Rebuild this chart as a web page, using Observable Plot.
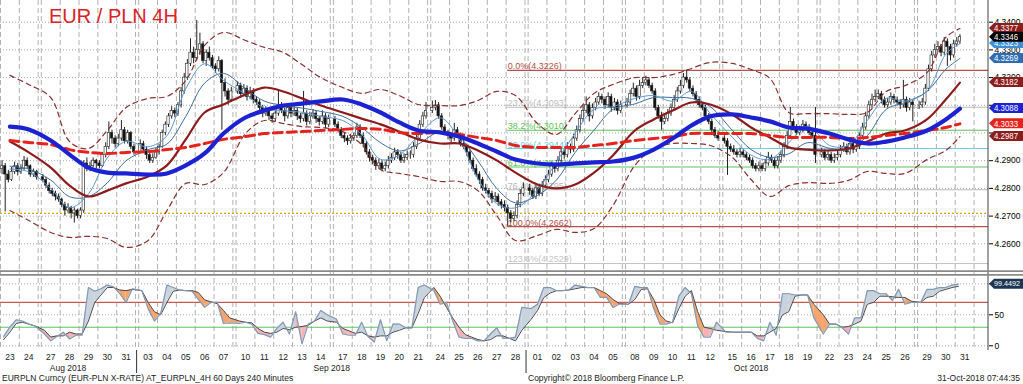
<!DOCTYPE html>
<html><head><meta charset="utf-8">
<script src="https://cdn.jsdelivr.net/npm/d3@7"></script>
<script src="https://cdn.jsdelivr.net/npm/@observablehq/plot@0.6"></script>
<style>
body{margin:0;background:#fff;}
#wrap{position:relative;width:1023px;height:384px;overflow:hidden;font-family:"Liberation Sans",Arial,sans-serif;background:#fff;}
#wrap svg{display:block;}
.foot{position:absolute;top:373px;font-size:8.5px;line-height:11px;color:#222;white-space:nowrap;}
</style></head><body><div id="wrap"></div>
<script>
// ---------------- DATA ----------------
const title = "EUR / PLN 4H";
const days = ["2018-08-23","2018-08-24","2018-08-27","2018-08-28","2018-08-29","2018-08-30","2018-08-31",
"2018-09-03","2018-09-04","2018-09-05","2018-09-06","2018-09-07","2018-09-10","2018-09-11","2018-09-12","2018-09-13","2018-09-14",
"2018-09-17","2018-09-18","2018-09-19","2018-09-20","2018-09-21","2018-09-24","2018-09-25","2018-09-26","2018-09-27","2018-09-28",
"2018-10-01","2018-10-02","2018-10-03","2018-10-04","2018-10-05","2018-10-08","2018-10-09","2018-10-10","2018-10-11","2018-10-12",
"2018-10-15","2018-10-16","2018-10-17","2018-10-18","2018-10-19","2018-10-22","2018-10-23","2018-10-24","2018-10-25","2018-10-26",
"2018-10-29","2018-10-30","2018-10-31"];

// 4H bars, six per day (last day partial)
const open = [
4.2870,4.2880,4.2850,4.2830,4.2860,4.2880, 4.2860,4.2870,4.2900,4.2880,4.2850,4.2860,
4.2840,4.2830,4.2810,4.2790,4.2780,4.2770, 4.2760,4.2740,4.2720,4.2730,4.2710,4.2720,
4.2700,4.2720,4.2890,4.2870,4.2880,4.2900, 4.2890,4.2880,4.2920,4.2950,4.3000,4.2980,
4.2960,4.2980,4.3010,4.2970,4.3000,4.2950, 4.2930,4.2960,4.2940,4.2920,4.2900,4.2910,
4.2930,4.2950,4.3000,4.3030,4.3060,4.3080, 4.3070,4.3100,4.3150,4.3200,4.3250,4.3290,
4.3270,4.3300,4.3320,4.3260,4.3290,4.3270, 4.3240,4.3230,4.3260,4.3180,4.3150,4.3120,
4.3150,4.3170,4.3140,4.3160,4.3130,4.3150, 4.3120,4.3110,4.3090,4.3070,4.3080,4.3060,
4.3050,4.3070,4.3100,4.3080,4.3060,4.3090, 4.3070,4.3080,4.3060,4.3050,4.3070,4.3040,
4.3060,4.3070,4.3050,4.3040,4.3060,4.3030, 4.3050,4.3030,4.3010,4.2990,4.2980,4.2970,
4.2980,4.2990,4.3020,4.2990,4.2960,4.2930, 4.2910,4.2900,4.2880,4.2890,4.2870,4.2880,
4.2900,4.2910,4.2930,4.2920,4.2900,4.2910, 4.2920,4.2920,4.2950,4.2980,4.3030,4.3060,
4.3080,4.3090,4.3100,4.3060,4.3020,4.3000, 4.2990,4.2980,4.3010,4.2990,4.2960,4.2950,
4.2930,4.2900,4.2870,4.2850,4.2830,4.2800, 4.2790,4.2780,4.2760,4.2770,4.2750,4.2740,
4.2730,4.2710,4.2690,4.2700,4.2740,4.2780, 4.2800,4.2790,4.2770,4.2800,4.2780,4.2810,
4.2830,4.2850,4.2880,4.2870,4.2900,4.2930, 4.2920,4.2950,4.2940,4.2980,4.3010,4.3050,
4.3080,4.3100,4.3060,4.3090,4.3110,4.3130, 4.3120,4.3100,4.3130,4.3090,4.3110,4.3080,
4.3100,4.3110,4.3140,4.3160,4.3130,4.3170, 4.3180,4.3190,4.3170,4.3150,4.3090,4.3060,
4.3040,4.3050,4.3070,4.3090,4.3120,4.3150, 4.3170,4.3200,4.3190,4.3160,4.3140,4.3120,
4.3100,4.3090,4.3060,4.3040,4.3010,4.2990, 4.2980,4.2970,4.2950,4.2940,4.2930,4.2920,
4.2930,4.2920,4.2910,4.2900,4.2880,4.2870, 4.2880,4.2870,4.2890,4.2910,4.2900,4.2880,
4.2900,4.2920,4.2950,4.2990,4.3040,4.3020, 4.3000,4.3010,4.3030,4.3020,4.3000,4.2990,
4.2920,4.2930,4.2910,4.2920,4.2900,4.2910, 4.2920,4.2940,4.2950,4.2930,4.2960,4.2940,
4.2950,4.2990,4.3020,4.3060,4.3100,4.3120, 4.3130,4.3140,4.3120,4.3100,4.3110,4.3130,
4.3120,4.3110,4.3100,4.3120,4.3090,4.3110, 4.3100,4.3100,4.3110,4.3160,4.3230,4.3280,
4.3300,4.3310,4.3290,4.3330,4.3310,4.3280, 4.3320,4.3330];
const high = [
4.2900,4.2890,4.2865,4.2875,4.2895,4.2890, 4.2885,4.2915,4.2910,4.2885,4.2870,4.2865,
4.2850,4.2840,4.2820,4.2800,4.2790,4.2780, 4.2765,4.2750,4.2745,4.2735,4.2730,4.2725,
4.2730,4.2900,4.2910,4.2895,4.2910,4.2905, 4.2900,4.2930,4.2965,4.3040,4.3010,4.2990,
4.2995,4.3045,4.3020,4.3010,4.3005,4.2960, 4.2975,4.2970,4.2950,4.2930,4.2925,4.2945,
4.2960,4.3010,4.3040,4.3070,4.3095,4.3090, 4.3110,4.3165,4.3215,4.3265,4.3340,4.3310,
4.3406,4.3360,4.3330,4.3300,4.3310,4.3280, 4.3250,4.3275,4.3265,4.3195,4.3160,4.3165,
4.3185,4.3180,4.3175,4.3170,4.3165,4.3160, 4.3130,4.3120,4.3100,4.3095,4.3090,4.3070,
4.3080,4.3150,4.3110,4.3090,4.3105,4.3100, 4.3095,4.3090,4.3070,4.3150,4.3080,4.3075,
4.3085,4.3080,4.3060,4.3080,4.3070,4.3065, 4.3060,4.3040,4.3020,4.3000,4.2990,4.2995,
4.3000,4.3035,4.3030,4.3000,4.2970,4.2940, 4.2920,4.2910,4.2905,4.2900,4.2895,4.2915,
4.2925,4.2945,4.2940,4.2930,4.2925,4.2935, 4.2935,4.2965,4.2995,4.3045,4.3075,4.3110,
4.3115,4.3117,4.3110,4.3070,4.3030,4.3010, 4.3000,4.3035,4.3020,4.3000,4.2975,4.2960,
4.2940,4.2910,4.2885,4.2860,4.2840,4.2815, 4.2800,4.2790,4.2785,4.2780,4.2760,4.2755,
4.2740,4.2720,4.2715,4.2755,4.2795,4.2820, 4.2815,4.2800,4.2815,4.2810,4.2825,4.2845,
4.2865,4.2895,4.2890,4.2915,4.2945,4.2940, 4.2965,4.2960,4.2995,4.3025,4.3065,4.3100,
4.3130,4.3110,4.3105,4.3125,4.3145,4.3140, 4.3130,4.3145,4.3140,4.3125,4.3120,4.3115,
4.3125,4.3155,4.3180,4.3170,4.3190,4.3200, 4.3205,4.3200,4.3180,4.3160,4.3100,4.3075,
4.3065,4.3085,4.3105,4.3135,4.3165,4.3190, 4.3215,4.3226,4.3200,4.3170,4.3150,4.3130,
4.3110,4.3100,4.3070,4.3050,4.3020,4.3005, 4.2990,4.2980,4.2960,4.2955,4.2940,4.2945,
4.2940,4.2930,4.2920,4.2910,4.2890,4.2895, 4.2890,4.2905,4.2930,4.2920,4.2910,4.2915,
4.2935,4.2965,4.3005,4.3092,4.3050,4.3030, 4.3025,4.3045,4.3040,4.3030,4.3010,4.3092,
4.2945,4.2940,4.2935,4.2930,4.2925,4.2935, 4.2955,4.2965,4.2960,4.2975,4.2970,4.2965,
4.3000,4.3035,4.3075,4.3115,4.3140,4.3155, 4.3155,4.3150,4.3130,4.3125,4.3145,4.3140,
4.3130,4.3120,4.3190,4.3130,4.3125,4.3120, 4.3115,4.3125,4.3175,4.3245,4.3295,4.3320,
4.3330,4.3320,4.3345,4.3340,4.3320,4.3335, 4.3345,4.3355];
const low = [
4.2850,4.2715,4.2820,4.2825,4.2850,4.2845, 4.2850,4.2865,4.2870,4.2840,4.2840,4.2830,
4.2820,4.2800,4.2780,4.2770,4.2755,4.2750, 4.2730,4.2700,4.2710,4.2690,4.2675,4.2690,
4.2690,4.2710,4.2860,4.2860,4.2875,4.2870, 4.2870,4.2875,4.2910,4.2940,4.2960,4.2945,
4.2950,4.2970,4.2960,4.2960,4.2940,4.2920, 4.2925,4.2930,4.2905,4.2890,4.2890,4.2905,
4.2920,4.2945,4.2990,4.3020,4.3050,4.3055, 4.3060,4.3090,4.3140,4.3190,4.3240,4.3250,
4.3260,4.3280,4.3250,4.3240,4.3260,4.3230, 4.3215,4.3220,4.3010,4.3130,4.3100,4.3110,
4.3140,4.3125,4.3130,4.3115,4.3120,4.3105, 4.3100,4.3080,4.3055,4.3060,4.3045,4.3035,
4.3040,4.3060,4.3070,4.3040,4.3050,4.3055, 4.3060,4.3045,4.3035,4.3040,4.3025,4.3030,
4.3050,4.3035,4.3025,4.3030,4.3015,4.3020, 4.3020,4.3000,4.2980,4.2965,4.2955,4.2960,
4.2970,4.2980,4.2980,4.2950,4.2920,4.2895, 4.2885,4.2865,4.2870,4.2860,4.2860,4.2870,
4.2890,4.2900,4.2905,4.2890,4.2890,4.2900, 4.2905,4.2910,4.2940,4.2970,4.3020,4.3050,
4.3070,4.3080,4.3050,4.3010,4.2990,4.2975, 4.2965,4.2970,4.2980,4.2950,4.2940,4.2915,
4.2890,4.2860,4.2840,4.2815,4.2790,4.2780, 4.2765,4.2745,4.2750,4.2735,4.2725,4.2715,
4.2662,4.2675,4.2680,4.2690,4.2730,4.2770, 4.2775,4.2760,4.2760,4.2770,4.2770,4.2800,
4.2820,4.2840,4.2855,4.2860,4.2890,4.2905, 4.2910,4.2925,4.2930,4.2970,4.3000,4.3040,
4.3070,4.3040,4.3050,4.3080,4.3100,4.3105, 4.3085,4.3090,4.3075,4.3080,4.3065,4.3070,
4.3090,4.3100,4.3130,4.3115,4.3120,4.3160, 4.3170,4.3160,4.3140,4.3080,4.3050,4.3010,
4.3030,4.3040,4.3060,4.3080,4.3110,4.3140, 4.3160,4.3180,4.3150,4.3130,4.3110,4.3090,
4.3080,4.3050,4.3030,4.3000,4.2980,4.2970, 4.2960,4.2847,4.2930,4.2920,4.2910,4.2910,
4.2910,4.2900,4.2890,4.2870,4.2860,4.2860, 4.2860,4.2860,4.2880,4.2890,4.2870,4.2870,
4.2890,4.2910,4.2940,4.2980,4.3010,4.2990, 4.2990,4.3000,4.3010,4.2990,4.2980,4.2890,
4.2910,4.2900,4.2900,4.2890,4.2890,4.2900, 4.2910,4.2930,4.2920,4.2920,4.2925,4.2930,
4.2940,4.2980,4.3010,4.3050,4.3090,4.3110, 4.3120,4.3105,4.3090,4.3090,4.3100,4.3105,
4.3100,4.3085,4.3090,4.3075,4.3080,4.3040, 4.3085,4.3090,4.3100,4.3150,4.3220,4.3270,
4.3290,4.3275,4.3280,4.3240,4.3260,4.3270, 4.3310,4.3320];
const close = [
4.2880,4.2850,4.2830,4.2860,4.2880,4.2860, 4.2870,4.2900,4.2880,4.2850,4.2860,4.2840,
4.2830,4.2810,4.2790,4.2780,4.2770,4.2760, 4.2740,4.2720,4.2730,4.2710,4.2720,4.2700,
4.2720,4.2890,4.2870,4.2880,4.2900,4.2890, 4.2880,4.2920,4.2950,4.3000,4.2980,4.2960,
4.2980,4.3010,4.2970,4.3000,4.2950,4.2930, 4.2960,4.2940,4.2920,4.2900,4.2910,4.2930,
4.2950,4.3000,4.3030,4.3060,4.3080,4.3070, 4.3100,4.3150,4.3200,4.3250,4.3290,4.3270,
4.3300,4.3320,4.3260,4.3290,4.3270,4.3240, 4.3230,4.3260,4.3180,4.3150,4.3120,4.3150,
4.3170,4.3140,4.3160,4.3130,4.3150,4.3120, 4.3110,4.3090,4.3070,4.3080,4.3060,4.3050,
4.3070,4.3100,4.3080,4.3060,4.3090,4.3070, 4.3080,4.3060,4.3050,4.3070,4.3040,4.3060,
4.3070,4.3050,4.3040,4.3060,4.3030,4.3050, 4.3030,4.3010,4.2990,4.2980,4.2970,4.2980,
4.2990,4.3020,4.2990,4.2960,4.2930,4.2910, 4.2900,4.2880,4.2890,4.2870,4.2880,4.2900,
4.2910,4.2930,4.2920,4.2900,4.2910,4.2920, 4.2920,4.2950,4.2980,4.3030,4.3060,4.3080,
4.3090,4.3100,4.3060,4.3020,4.3000,4.2990, 4.2980,4.3010,4.2990,4.2960,4.2950,4.2930,
4.2900,4.2870,4.2850,4.2830,4.2800,4.2790, 4.2780,4.2760,4.2770,4.2750,4.2740,4.2730,
4.2710,4.2690,4.2700,4.2740,4.2780,4.2800, 4.2790,4.2770,4.2800,4.2780,4.2810,4.2830,
4.2850,4.2880,4.2870,4.2900,4.2930,4.2920, 4.2950,4.2940,4.2980,4.3010,4.3050,4.3080,
4.3100,4.3060,4.3090,4.3110,4.3130,4.3120, 4.3100,4.3130,4.3090,4.3110,4.3080,4.3100,
4.3110,4.3140,4.3160,4.3130,4.3170,4.3180, 4.3190,4.3170,4.3150,4.3090,4.3060,4.3040,
4.3050,4.3070,4.3090,4.3120,4.3150,4.3170, 4.3200,4.3190,4.3160,4.3140,4.3120,4.3100,
4.3090,4.3060,4.3040,4.3010,4.2990,4.2980, 4.2970,4.2950,4.2940,4.2930,4.2920,4.2930,
4.2920,4.2910,4.2900,4.2880,4.2870,4.2880, 4.2870,4.2890,4.2910,4.2900,4.2880,4.2900,
4.2920,4.2950,4.2990,4.3040,4.3020,4.3000, 4.3010,4.3030,4.3020,4.3000,4.2990,4.2920,
4.2930,4.2910,4.2920,4.2900,4.2910,4.2920, 4.2940,4.2950,4.2930,4.2960,4.2940,4.2950,
4.2990,4.3020,4.3060,4.3100,4.3120,4.3130, 4.3140,4.3120,4.3100,4.3110,4.3130,4.3120,
4.3110,4.3100,4.3120,4.3090,4.3110,4.3100, 4.3100,4.3110,4.3160,4.3230,4.3280,4.3300,
4.3310,4.3290,4.3330,4.3310,4.3280,4.3320, 4.3330,4.3346];

// indicator lines, one reading per trading day
const maBlue = [4.3023,4.3013,4.2973,4.2922,4.2875,4.2857,4.2854,4.2850,4.2854,4.2883,4.2926,4.2998,4.3056,4.3081,4.3099,4.3106,4.3114,4.3121,4.3103,4.3074,4.3038,4.3009,4.3002,4.2987,4.2962,4.2933,4.2904,4.2890,4.2886,4.2890,4.2894,4.2897,4.2912,4.2940,4.2980,4.3027,4.3060,4.3067,4.3056,4.3042,4.3020,4.3016,4.2998,4.2977,4.2962,4.2969,4.2984,4.3009,4.3049,4.3088];
const maRed = [4.2973,4.2966,4.2958,4.2940,4.2930,4.2926,4.2930,4.2933,4.2940,4.2948,4.2962,4.2977,4.2987,4.2998,4.3002,4.3005,4.3009,4.3013,4.3016,4.3013,4.3002,4.2998,4.3002,4.2995,4.2984,4.2973,4.2955,4.2948,4.2948,4.2948,4.2955,4.2962,4.2973,4.2980,4.2987,4.2998,4.2998,4.2998,4.2998,4.2991,4.2984,4.2984,4.2984,4.2980,4.2984,4.2991,4.2998,4.3009,4.3020,4.3033];
const maMaroon = [4.2969,4.2930,4.2875,4.2810,4.2771,4.2792,4.2818,4.2843,4.2883,4.2977,4.3074,4.3103,4.3139,4.3164,4.3150,4.3125,4.3099,4.3074,4.3052,4.3031,4.3005,4.2977,4.2962,4.2962,4.2937,4.2901,4.2857,4.2814,4.2800,4.2814,4.2857,4.2919,4.3009,4.3049,4.3081,4.3110,4.3103,4.3067,4.3020,4.2984,4.2948,4.2940,4.2937,4.2944,4.2969,4.2998,4.3009,4.3049,4.3121,4.3182];
const bbUpper = [4.3208,4.3175,4.3128,4.2969,4.2944,4.3009,4.3092,4.3125,4.3132,4.3190,4.3316,4.3363,4.3334,4.3309,4.3291,4.3247,4.3200,4.3164,4.3143,4.3157,4.3135,4.3103,4.3099,4.3099,4.3117,4.3150,4.3135,4.3034,4.2995,4.3070,4.3143,4.3175,4.3200,4.3200,4.3211,4.3233,4.3255,4.3251,4.3229,4.3197,4.3074,4.3070,4.3070,4.3067,4.3074,4.3150,4.3171,4.3218,4.3345,4.3377];
const bbLower = [4.2720,4.2684,4.2641,4.2623,4.2627,4.2619,4.2587,4.2612,4.2720,4.2818,4.2814,4.2857,4.2998,4.3045,4.3034,4.3023,4.3020,4.3005,4.2958,4.2868,4.2854,4.2843,4.2825,4.2825,4.2792,4.2702,4.2612,4.2630,4.2652,4.2641,4.2655,4.2738,4.2883,4.2944,4.2962,4.2962,4.2955,4.2912,4.2832,4.2771,4.2810,4.2821,4.2818,4.2829,4.2861,4.2854,4.2854,4.2904,4.2937,4.2987];
const maFast = [4.2870,4.2860,4.2800,4.2730,4.2780,4.2910,4.2970,4.2950,4.2990,4.3160,4.3250,4.3190,4.3140,4.3090,4.3080,4.3075,4.3060,4.3045,4.2995,4.2905,4.2920,4.2990,4.3055,4.2980,4.2835,4.2745,4.2730,4.2795,4.2895,4.3000,4.3085,4.3095,4.3125,4.3135,4.3115,4.3150,4.3070,4.2985,4.2920,4.2905,4.2965,4.3025,4.2955,4.2955,4.3045,4.3125,4.3115,4.3150,4.3285,4.3323];
const maSlow = [4.2880,4.2870,4.2830,4.2770,4.2770,4.2820,4.2900,4.2940,4.2960,4.3060,4.3180,4.3215,4.3160,4.3115,4.3100,4.3090,4.3078,4.3060,4.3020,4.2965,4.2935,4.2960,4.3005,4.2985,4.2900,4.2800,4.2748,4.2775,4.2830,4.2930,4.3010,4.3085,4.3105,4.3128,4.3128,4.3125,4.3095,4.3010,4.2940,4.2912,4.2925,4.2965,4.2945,4.2940,4.2990,4.3085,4.3110,4.3150,4.3230,4.3269];

// stochastic, three readings per trading day
const stochK = [15,30,42, 40,35,32, 19,8,15, 22,11,17, 17,94,88, 92,98,95, 84,70,92, 89,60,40, 52,98,94, 90,89,88,
75,62,70, 70,36,37, 36,38,35, 20,18,14, 28,38,19, 55,3,35, 40,57,50, 43,19,17, 17,38,15, 6,42,8, 35,35,29, 29,94,98,
89,67,70, 40,14,12, 12,8,8, 19,29,12, 12,14,62, 60,67,94, 94,89,89, 90,98,96, 94,94,78, 78,62,67, 67,96,94, 94,60,35,
35,38,80, 94,84,32, 14,14,38, 22,22,22, 22,22,12, 8,38,17, 84,84,82, 82,82,45, 19,35,35, 29,19,45, 45,89,89, 84,84,73,
91,67,70, 70,91,91, 94,94,98, 99.4492];
const stochD = [10,22,36, 38,35,32, 25,14,16, 16,22,19, 19,40,70, 82,94,94, 90,89,91, 89,70,55, 50,70,88, 90,89,89,
86,74,71, 68,57,45, 40,38,37, 28,22,20, 22,28,26, 30,31,33, 40,45,40, 38,28,24, 20,22,16, 14,16,16, 22,25,29, 29,52,78,
94,80,62, 45,30,18, 14,10,8, 10,16,16, 12,8,25, 43,57,78, 85,89,89, 90,92,94, 94,94,89, 84,75,68, 67,75,91, 92,75,50,
40,37,60, 80,89,55, 30,28,25, 23,22,22, 22,22,16, 16,22,28, 50,55,80, 82,82,67, 50,35,35, 30,31,35, 40,67,70, 80,80,79,
78,78,72, 70,78,80, 88,91,94, 96];

const priceTicks = [4.26,4.27,4.28,4.29,4.30,4.31,4.32,4.33,4.34];
const stochTicks = [0,50,100];
const stochOverbought = [70];
const stochOversold = [30];
const fibLevels = [0,23.6,38.2,50,61.8,76.4,100,123.6];
const fibPrices = [4.3226,4.3093,4.3010,4.2944,4.2877,4.2795,4.2662,4.2529];
const supportLevel = [4.2710];
const footLeft = "EURPLN Curncy (EUR-PLN X-RATE) AT_EURPLN_4H 60 Days 240 Minutes";
const footMid = "Copyright\u00a9 2018 Bloomberg Finance L.P.";
const footRight = "31-Oct-2018 07:44:35";

// ---------------- STYLE ----------------
const fibColors = ["#b5504a","#bdbdbd","#5cc35c","#6ccfdc","#5cc35c","#b8b8b8","#b5504a","#c4c4c4"];
const W = 1023, MR = 35, FONT = "Liberation Sans, Arial, sans-serif";

// ---------------- DERIVED ----------------
const BARS = 6;
const dates = days.map(d3.utcParse("%Y-%m-%d"));
const dayStart = [];
{ let s = 0; dates.forEach((d, i) => { if (i) { const gap = Math.round((d - dates[i-1]) / 864e5); s += BARS + (gap > 1 ? 1 : 0); } dayStart.push(s); }); }
const nb = close.length;
const barsInDay = i => Math.min(BARS, nb - i * BARS);
const bars = d3.range(nb).map(k => ({slot: dayStart[Math.floor(k / BARS)] + (k % BARS) + 0.5, open: open[k], high: high[k], low: low[k], close: close[k]}));
const ma = days.map((d, i) => ({slot: dayStart[i] + Math.min(3, barsInDay(i) - 0.5),
  blue: maBlue[i], red: maRed[i], maroon: maMaroon[i], up: bbUpper[i], lo: bbLower[i], fast: maFast[i], slow: maSlow[i]}));
const stoch = stochK.map((k, j) => ({slot: dayStart[Math.floor(j / 3)] + (j % 3) * 2 + 1, k, d: stochD[j]}));
const segs = [];
for (let j = 0; j < stoch.length - 1; j++) {
  const a = stoch[j], b = stoch[j+1];
  const diff = (a.k - a.d) + (b.k - b.d);
  const color = diff >= 0 ? "#c9d3de" : ((a.d + b.d) / 2 > 40 ? "#f4a46d" : "#f2b2b6");
  segs.push({seg: j, slot: a.slot, k: a.k, d: a.d, color}, {seg: j, slot: b.slot, k: b.k, d: b.d, color});
}
const lastSlot = dayStart[days.length - 1] + BARS;
const vlines = [];
dayStart.forEach((s, i) => { vlines.push(s); const next = i < dayStart.length - 1 ? dayStart[i+1] : lastSlot; if (next > s + BARS || i === dayStart.length - 1) vlines.push(s + BARS); });
const lowIdx = d3.minIndex(low);
const fibX = bars[lowIdx].slot;
const xEnd = 314.6;
const fib = fibLevels.map((l, i) => ({price: fibPrices[i], color: fibColors[i], label: `${l.toFixed(1)}%(${fibPrices[i].toFixed(4)})`}));
const dayRows = days.map((d, i) => ({center: dayStart[i] + BARS / 2, label: d3.utcFormat("%d")(dates[i])}));
const months = d3.groups(days.map((d, i) => i), i => d3.utcFormat("%b %Y")(dates[i]));
const monthRows = months.map(([label, idx]) => ({label, center: (dayStart[idx[0]] + dayStart[idx[idx.length-1]] + BARS) / 2}));
const monthSeps = months.slice(1).map(([, idx]) => dayStart[idx[0]] - 0.5);

const lastClose = close[close.length - 1];
const mainBoxes = [[maFast.at(-1), "#3d8fd6"], [bbUpper.at(-1), "#8c1d1d"], [lastClose, "#000"], [maSlow.at(-1), "#2f6db3"],
 [maMaroon.at(-1), "#8c1d1d"], [maBlue.at(-1), "#1c22d2"], [maRed.at(-1), "#e5231c"], [bbLower.at(-1), "#8c1d1d"]];
const lowerBoxes = [[stochK.at(-1), "#1c3553"]];

const xOpt = {domain: [0, xEnd], range: [0, W - MR], axis: null};
const curve = "catmull-rom";

// ---------------- MAIN PANEL ----------------
const main = Plot.plot({
  width: W, height: 270, marginTop: 0, marginBottom: 0, marginLeft: 0, marginRight: MR,
  x: xOpt,
  y: {domain: [4.25036, 4.34783], axis: null},
  color: {type: "identity"},
  style: {fontFamily: FONT, background: "#fff"},
  marks: [
    Plot.ruleY(priceTicks, {stroke: "#a9a9a9", strokeDasharray: "1,2"}),
    Plot.ruleX(vlines, {stroke: "#b2b2b2", strokeDasharray: "5,3"}),
    Plot.ruleY(supportLevel, {x1: 0, x2: xEnd, stroke: "#e0a800", strokeDasharray: "2,2", strokeWidth: 1.3}),
    Plot.ruleY(fib, {y: "price", x1: fibX, x2: xEnd, stroke: "color", strokeWidth: 1.1}),
    Plot.text(fib, {x: fibX, y: "price", text: "label", fill: "color", textAnchor: "start", lineAnchor: "bottom", dy: -1, fontSize: 9}),
    Plot.ruleX(bars, {x: "slot", y1: "low", y2: "high", stroke: "#222", strokeWidth: 1}),
    Plot.rect(bars, {x1: d => d.slot - 0.37, x2: d => d.slot + 0.37, y1: "open", y2: "close",
      fill: d => d.close >= d.open ? "#ffffff" : "#111111", stroke: "#222", strokeWidth: 0.6}),
    Plot.line(ma, {x: "slot", y: "slow", stroke: "#3e6e9e", strokeWidth: 1, curve}),
    Plot.line(ma, {x: "slot", y: "fast", stroke: "#5b9ad6", strokeWidth: 1, curve}),
    Plot.line(ma, {x: "slot", y: "up", stroke: "#8b2f2f", strokeWidth: 1.2, strokeDasharray: "5,4", curve}),
    Plot.line(ma, {x: "slot", y: "lo", stroke: "#8b2f2f", strokeWidth: 1.2, strokeDasharray: "5,4", curve}),
    Plot.line(ma, {x: "slot", y: "maroon", stroke: "#8e1b1b", strokeWidth: 2.2, curve}),
    Plot.line(ma, {x: "slot", y: "red", stroke: "#e5231c", strokeWidth: 3, strokeDasharray: "9,5", curve}),
    Plot.line(ma, {x: "slot", y: "blue", stroke: "#1c22d2", strokeWidth: 4.2, curve}),
    // tick labels sitting right under a value box are left blank (hidden there in the original too)
    Plot.axisY(priceTicks, {anchor: "right", tickSize: 4, tickPadding: 2, fontSize: 8.5, label: null,
      tickFormat: t => mainBoxes.some(([v]) => Math.abs(v - t) < 0.0014) ? "" : d3.format(".4f")(t)}),
  ]
});

// ---------------- STOCHASTIC PANEL ----------------
const lower = Plot.plot({
  width: W, height: 103, marginTop: 0, marginBottom: 23, marginLeft: 0, marginRight: MR,
  x: xOpt,
  y: {domain: [-7.6, 121.5], axis: null},
  color: {type: "identity"},
  style: {fontFamily: FONT, background: "#fff"},
  marks: [
    Plot.ruleY(stochTicks, {stroke: "#a9a9a9", strokeDasharray: "1,2"}),
    Plot.ruleX(vlines, {stroke: "#b2b2b2", strokeDasharray: "5,3"}),
    Plot.ruleY(stochOverbought, {stroke: "#c65a52", strokeWidth: 1.1}),
    Plot.ruleY(stochOversold, {stroke: "#5ec45e", strokeWidth: 1.1}),
    Plot.areaY(segs, {x: "slot", y1: "d", y2: "k", z: "seg", fill: "color"}),
    Plot.line(stoch, {x: "slot", y: "d", stroke: "#4a4a4a", strokeWidth: 1}),
    Plot.line(stoch, {x: "slot", y: "k", stroke: "#8299b4", strokeWidth: 1.2}),
    Plot.axisY(stochTicks, {anchor: "right", tickSize: 4, tickPadding: 2, fontSize: 8.5, label: null,
      tickFormat: t => lowerBoxes.some(([v]) => Math.abs(v - t) < 8) ? "" : String(t)}),
    Plot.text(dayRows, {x: "center", text: "label", frameAnchor: "bottom", lineAnchor: "middle", dy: 7, fontSize: 8.5, fill: "#222"}),
    Plot.text(monthRows, {x: "center", text: "label", frameAnchor: "bottom", lineAnchor: "middle", dy: 18, fontSize: 8.5, fill: "#222"}),
  ]
});

// ---------------- annotations using the plots' scales ----------------
function labelBox(svg, v, color, text) {
  const y = svg.scale("y").apply(v), x0 = W - MR + 1;
  const long = text.length > 6;
  const g = d3.select(svg).append("g");
  g.append("path").attr("d", `M${x0},${y} L${x0+5},${y-5} H${W} V${y+5} H${x0+5} Z`).attr("fill", color);
  g.append("text").attr("x", x0 + 5).attr("y", y).attr("dy", "0.35em").attr("fill", "#fff").attr("text-anchor", "start")
    .attr("font-size", long ? 7.8 : 9).attr("font-family", FONT)
    .attr("textLength", long ? 26 : 24).attr("lengthAdjust", "spacingAndGlyphs").text(text);
}
const xr = main.scale("x").apply(xEnd);
d3.select(main).append("line").attr("x1", xr).attr("x2", xr).attr("y1", 0).attr("y2", 270).attr("stroke", "#444");
d3.select(main).append("text").attr("x", 49).attr("y", 23).attr("font-size", 20).attr("font-family", FONT)
  .attr("text-anchor", "start").attr("fill", "#dc2228").text(title);
mainBoxes.forEach(([v, c]) => labelBox(main, v, c, v.toFixed(4)));

const lsel = d3.select(lower);
lsel.append("line").attr("x1", xr).attr("x2", xr).attr("y1", 0).attr("y2", 80).attr("stroke", "#444");
[1.2, 4.8].forEach(y => lsel.append("line").attr("x1", 0).attr("x2", W).attr("y1", y).attr("y2", y).attr("stroke", "#8a8a8a").attr("stroke-width", 1.8));
monthSeps.forEach(s => { const x = lower.scale("x").apply(s); lsel.append("line").attr("x1", x).attr("x2", x).attr("y1", 80).attr("y2", 103).attr("stroke", "#333"); });
lowerBoxes.forEach(([v, c]) => labelBox(lower, v, c, v.toFixed(4)));

const wrap = document.getElementById("wrap");
wrap.appendChild(main);
wrap.appendChild(lower);
[[footLeft, "left:2px"], [footMid, "left:528px"], [footRight, "right:3px"]].forEach(([t, pos]) => {
  const d = document.createElement("div"); d.className = "foot"; d.style.cssText = pos; d.textContent = t; wrap.appendChild(d);
});
</script></body></html>
